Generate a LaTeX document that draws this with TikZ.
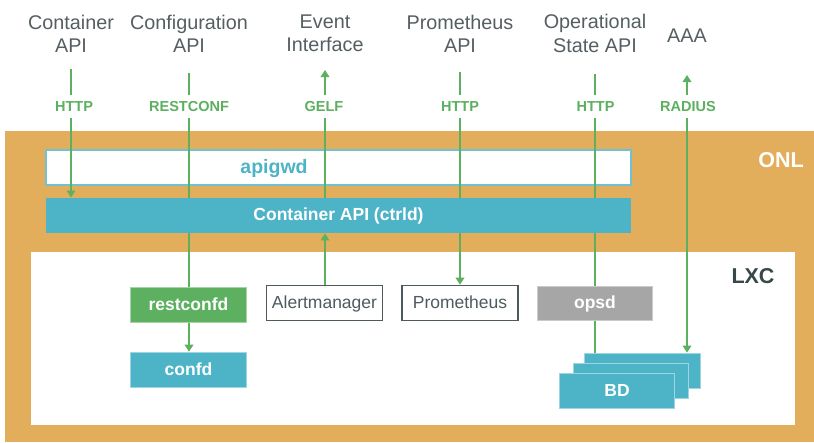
\documentclass[tikz,border=0pt]{standalone}
\usepackage{fontspec}
\setmainfont{Liberation Sans}
\usetikzlibrary{arrows.meta,calc}
\definecolor{onlorange}{HTML}{E2AE5C}
\definecolor{linkgreen}{HTML}{5CB05F}
\definecolor{boxteal}{HTML}{4DB3C6}
\definecolor{boxgrey}{HTML}{A6A6A6}
\definecolor{darktext}{HTML}{4D5B5E}
\definecolor{lxctext}{HTML}{37474A}
\definecolor{toptext}{HTML}{555F62}
\pgfdeclarelayer{back}
\pgfdeclarelayer{links}
\pgfsetlayers{back,links,main}
\newcommand{\fsz}[1]{\fontsize{#1}{#1}\selectfont}
\tikzset{
  x=1pt,y=-1pt,
  block/.style={rectangle,inner sep=0pt,minimum width=115.5pt,minimum height=35pt,anchor=center,font=\fsz{17.5}\bfseries,text=white,text height=15pt,text depth=4pt},
  tealblock/.style={block,fill=boxteal,draw=boxteal!55!white,line width=0.6pt},
  outlined/.style={block,fill=white,draw=darktext,line width=1.6pt,text=darktext,font=\fsz{17.5},minimum width=116pt,minimum height=35pt},
  apitext/.style={align=center,inner sep=0pt,font=\fsz{19.8},text=toptext,anchor=center},
  proto/.style={fill=white,inner sep=0pt,minimum height=23pt,text=linkgreen,font=\fsz{14.5}\bfseries,anchor=center},
  link/.style={draw=linkgreen,line width=2.2pt},
  tip/.style={link,-{Triangle[length=7pt,width=8.5pt]}},
}
\begin{document}
\begin{tikzpicture}
\useasboundingbox (0,0) rectangle (814,442);

\begin{pgfonlayer}{back}
\fill[white] (0,0) rectangle (814,442);
\node[fill=onlorange,inner sep=0pt,minimum width=809pt,minimum height=311pt] (onl) at (409.5,286.5) {};
\node[fill=white,inner sep=0pt,minimum width=764pt,minimum height=173pt] (lxc) at (413,338.5) {};
\node[fill=white,draw=boxteal!80!white,line width=1.5pt,inner sep=0pt,minimum width=585pt,minimum height=35pt] (apigwd) at (338.5,167.5) {};
\end{pgfonlayer}

\node[text=boxteal,font=\fsz{19.5}\bfseries,inner sep=0pt,text height=15pt,text depth=4pt] (apigwdname) at (274,167.5) {apigwd};
\node[text=white,font=\fsz{21.5}\bfseries,inner sep=0pt] (onlname) at (781,160) {ONL};
\node[text=lxctext,font=\fsz{21.5}\bfseries,inner sep=0pt] (lxcname) at (753,276) {LXC};

\node[apitext] (t1) at (71,33.5) {Container\\[3.5pt]API};
\node[apitext] (t2) at (189,33.5) {Configuration\\[3.5pt]API};
\node[apitext] (t3) at (325,33.5) {Event\\[3.5pt]Interface};
\node[apitext] (t4) at (460,33.5) {Prometheus\\[3.5pt]API};
\node[apitext] (t5) at (595,33.5) {Operational\\[3.5pt]State API};
\node[apitext] (t6) at (687,36) {AAA};

\node[fill=boxteal,inner sep=0pt,minimum width=585pt,minimum height=35.5pt,text=white,font=\fsz{17.5}\bfseries,text height=14pt,text depth=4pt] (ctrld) at (338.5,215.5) {Container API (ctrld)};

\node[block,fill=linkgreen,draw=linkgreen!55!white,line width=0.6pt] (restconfd) at (188.5,304.5) {restconfd};
\node[tealblock] (confd) at (188.5,369.5) {confd};
\node[outlined] (alert) at (324.5,303) {Alertmanager};
\node[outlined] (prom) at (460,303) {Prometheus};
\node[block,fill=boxgrey,draw=boxgrey!60!white,line width=0.6pt,minimum height=34pt] (opsd) at (595,303) {opsd};
\node[tealblock] (bdc) at (642.5,370.5) {};
\node[tealblock] (bdb) at (631,380.5) {};
\node[tealblock] (bda) at (617,390.5) {BD};

\coordinate (c1) at (71,69);
\coordinate (c2) at (189,73);
\coordinate (c3) at (325,70);
\coordinate (c4) at (460,72);
\coordinate (c5) at (595,74);
\coordinate (c6) at (687,75);

\begin{pgfonlayer}{links}
\draw[tip] (c1) -- (c1 |- ctrld.north);
\draw[link] (c2) -- (c2 |- restconfd.north);
\draw[tip] (c3 |- ctrld.north) -- (c3);
\draw[tip] (alert.north -| c3) -- (c3 |- ctrld.south);
\draw[tip] (c4) -- (c4 |- prom.north);
\draw[link] (c5) -- (c5 |- bdc.north);
\draw[tip] (c6 |- onl.north) -- (c6);
\draw[tip] (c6 |- onl.north) -- (c6 |- bdc.north);
\draw[tip] (c2 |- restconfd.south) -- (c2 |- confd.north);
\end{pgfonlayer}

\node[proto,minimum width=49pt] (p1) at (74,106.5) {HTTP};
\node[proto,minimum width=90pt] (p2) at (189,106.5) {RESTCONF};
\node[proto,minimum width=49pt] (p3) at (324,106.5) {GELF};
\node[proto,minimum width=49pt] (p4) at (460,106.5) {HTTP};
\node[proto,minimum width=49pt] (p5) at (595.5,106.5) {HTTP};
\node[proto,minimum width=66pt] (p6) at (688,106.5) {RADIUS};
\end{tikzpicture}
\end{document}
